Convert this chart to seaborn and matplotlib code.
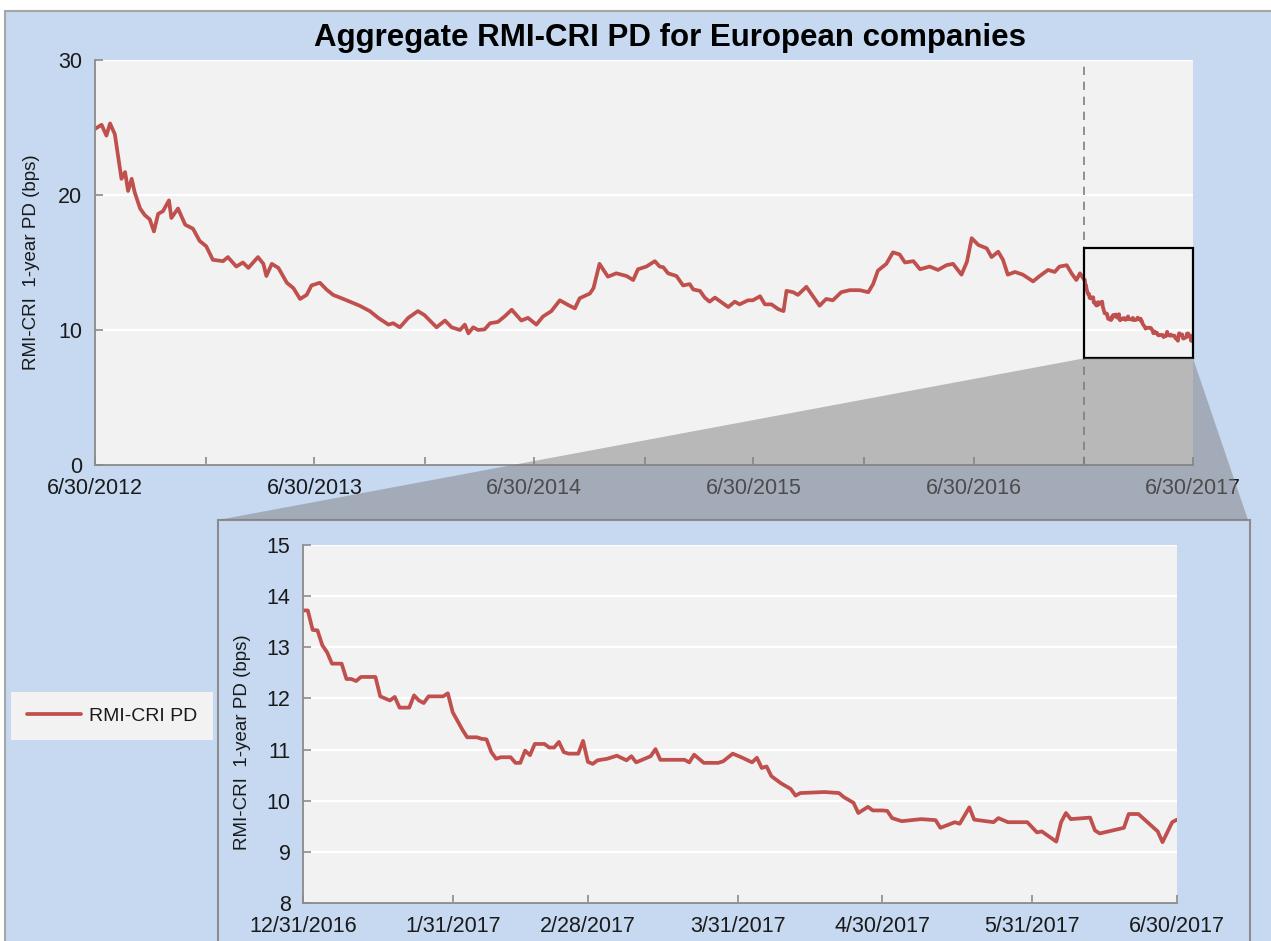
import matplotlib
matplotlib.use('Agg')
import pandas as pd
import matplotlib.pyplot as plt
import matplotlib.dates as mdates
from matplotlib.patches import Rectangle, Polygon
from matplotlib.ticker import FuncFormatter
import seaborn as sns

TITLE = 'Aggregate RMI-CRI PD for European companies'
YLABEL = 'RMI-CRI  1-year PD (bps)'
SERIES_NAME = 'RMI-CRI PD'

# history (up to the zoomed half-year)
HIST_DATES = [
    '2012-06-30', '2012-07-11', '2012-07-19', '2012-07-25', '2012-08-02', '2012-08-08', '2012-08-13',
    '2012-08-19', '2012-08-24', '2012-08-30', '2012-09-04', '2012-09-13', '2012-09-21', '2012-09-29',
    '2012-10-06', '2012-10-13', '2012-10-21', '2012-10-31', '2012-11-04', '2012-11-15', '2012-11-27',
    '2012-12-10', '2012-12-21', '2013-01-01', '2013-01-12', '2013-01-29', '2013-02-06', '2013-02-20',
    '2013-03-03', '2013-03-12', '2013-03-28', '2013-04-06', '2013-04-11', '2013-04-20', '2013-05-01',
    '2013-05-15', '2013-05-26', '2013-06-06', '2013-06-17', '2013-06-25', '2013-07-09', '2013-07-20',
    '2013-07-31', '2013-08-17', '2013-09-02', '2013-09-13', '2013-09-30', '2013-10-14',
    '2013-10-31', '2013-11-08', '2013-11-19', '2013-12-03', '2013-12-19', '2013-12-30', '2014-01-19',
    '2014-02-02', '2014-02-13', '2014-02-27', '2014-03-07', '2014-03-13', '2014-03-21', '2014-03-29',
    '2014-04-09', '2014-04-18', '2014-05-01', '2014-05-12', '2014-05-24', '2014-06-09', '2014-06-20',
    '2014-07-04', '2014-07-15', '2014-07-29', '2014-08-12', '2014-08-26', '2014-09-06', '2014-09-14',
    '2014-10-01', '2014-10-07', '2014-10-17', '2014-10-31', '2014-11-14', '2014-12-01', '2014-12-12',
    '2014-12-20', '2015-01-03', '2015-01-17', '2015-01-25',
    '2015-01-31', '2015-02-08', '2015-02-22', '2015-03-05', '2015-03-16', '2015-03-22', '2015-04-02',
    '2015-04-10', '2015-04-18', '2015-04-27', '2015-05-08', '2015-05-19', '2015-05-30', '2015-06-07',
    '2015-06-21', '2015-06-29', '2015-07-11', '2015-07-19', '2015-07-30', '2015-08-10', '2015-08-19',
    '2015-08-24', '2015-09-04', '2015-09-12', '2015-09-26', '2015-10-07', '2015-10-18', '2015-10-29',
    '2015-11-09', '2015-11-23', '2015-12-07', '2015-12-24', '2016-01-07', '2016-01-15', '2016-01-23',
    '2016-02-06', '2016-02-17', '2016-02-28', '2016-03-08', '2016-03-22', '2016-04-02',
    '2016-04-18', '2016-05-02', '2016-05-16', '2016-05-27', '2016-06-10', '2016-06-19', '2016-06-27',
    '2016-07-08', '2016-07-22', '2016-07-30', '2016-08-10', '2016-08-18', '2016-08-26', '2016-09-07',
    '2016-09-20', '2016-10-07', '2016-10-18', '2016-11-01', '2016-11-12', '2016-11-20', '2016-12-02',
    '2016-12-10', '2016-12-18', '2016-12-24',
]
HIST_VALUES = [
    24.9, 25.2, 24.4, 25.3, 24.5, 22.7, 21.2, 21.7, 20.3, 21.2, 20.2, 19.0, 18.5, 18.2, 17.3, 18.6,
    18.8, 19.6, 18.3, 19.0, 17.8, 17.5, 16.6, 16.2, 15.2, 15.1, 15.4, 14.7, 15.0, 14.6, 15.4, 14.9,
    14.0, 14.9, 14.6, 13.5, 13.1, 12.3, 12.6, 13.3, 13.5, 13.0, 12.6, 12.3, 12.0, 11.8, 11.4, 10.9,
    10.4, 10.5, 10.2, 10.9, 11.4, 11.1, 10.2, 10.7, 10.2, 10.0, 10.4, 9.75, 10.2, 10.0, 10.05, 10.5,
    10.6, 11.0, 11.5, 10.7, 10.9, 10.4, 11.0, 11.4, 12.2, 11.85, 11.6, 12.35, 12.7, 13.1, 14.9, 13.95,
    14.2, 14.0, 13.7, 14.5, 14.7, 15.1, 14.7,
    14.65, 14.2, 14.0, 13.3, 13.4, 13.0, 12.9, 12.4, 12.1, 12.4, 12.05, 11.7, 12.1, 11.9, 12.2, 12.2,
    12.5, 11.9, 11.9, 11.55, 11.4, 12.9, 12.8, 12.6, 13.2, 12.5, 11.8, 12.3, 12.2, 12.8, 12.95, 12.95,
    12.8, 13.4, 14.4, 14.9, 15.75, 15.6, 15.0, 15.1, 14.5,
    14.7, 14.45, 14.8, 14.9, 14.1, 15.05, 16.8, 16.3, 16.05, 15.4, 15.8, 15.2, 14.1, 14.3, 14.1, 13.6,
    14.0, 14.45, 14.3, 14.7, 14.8, 14.2, 13.7, 14.2,
]

# zoomed half-year
ZOOM_DATES = [
    '2016-12-31', '2017-01-01', '2017-01-02', '2017-01-03', '2017-01-04', '2017-01-05', '2017-01-06',
    '2017-01-08', '2017-01-09', '2017-01-10', '2017-01-11', '2017-01-12', '2017-01-15', '2017-01-16',
    '2017-01-18', '2017-01-19', '2017-01-20', '2017-01-22', '2017-01-23', '2017-01-24', '2017-01-25',
    '2017-01-26', '2017-01-29', '2017-01-30', '2017-01-31', '2017-02-02', '2017-02-03', '2017-02-05',
    '2017-02-06', '2017-02-07', '2017-02-08', '2017-02-09', '2017-02-10', '2017-02-12', '2017-02-13',
    '2017-02-14', '2017-02-15', '2017-02-16', '2017-02-17', '2017-02-19', '2017-02-20', '2017-02-21',
    '2017-02-22', '2017-02-23', '2017-02-24', '2017-02-26', '2017-02-27', '2017-02-28', '2017-03-01',
    '2017-03-02', '2017-03-04', '2017-03-06', '2017-03-08', '2017-03-09', '2017-03-10', '2017-03-13',
    '2017-03-14', '2017-03-15', '2017-03-20', '2017-03-21', '2017-03-22', '2017-03-24', '2017-03-27',
    '2017-03-28', '2017-03-30', '2017-04-01', '2017-04-03', '2017-04-04', '2017-04-05', '2017-04-06',
    '2017-04-07', '2017-04-09', '2017-04-11', '2017-04-12', '2017-04-13', '2017-04-18', '2017-04-21',
    '2017-04-22', '2017-04-24', '2017-04-25', '2017-04-27', '2017-04-28', '2017-04-30', '2017-05-01',
    '2017-05-02', '2017-05-04', '2017-05-08', '2017-05-11', '2017-05-12', '2017-05-15', '2017-05-16',
    '2017-05-18', '2017-05-19', '2017-05-23', '2017-05-24', '2017-05-26', '2017-05-30', '2017-06-01',
    '2017-06-02', '2017-06-05', '2017-06-06', '2017-06-07', '2017-06-08', '2017-06-12', '2017-06-13',
    '2017-06-14', '2017-06-19', '2017-06-20', '2017-06-22', '2017-06-26', '2017-06-27', '2017-06-29',
    '2017-06-30',
]
ZOOM_VALUES = [
    13.72, 13.72, 13.34, 13.33, 13.04, 12.9, 12.68, 12.68, 12.38, 12.38, 12.34, 12.42, 12.42, 12.04,
    11.96, 12.03, 11.82, 11.82, 12.06, 11.96, 11.91, 12.04, 12.04, 12.1, 11.73, 11.39, 11.24, 11.24,
    11.21, 11.2, 10.95, 10.82, 10.85, 10.85, 10.74, 10.74, 10.98, 10.89, 11.11, 11.11, 11.04, 11.04,
    11.15, 10.95, 10.92, 10.92, 11.17, 10.76, 10.72, 10.79, 10.82, 10.88, 10.79, 10.87, 10.75, 10.87,
    11.01, 10.8, 10.8, 10.75, 10.9, 10.74, 10.74, 10.77, 10.92, 10.84, 10.75, 10.84, 10.64, 10.67,
    10.48, 10.34, 10.23, 10.1, 10.15, 10.17, 10.15, 10.07, 9.96, 9.76, 9.88, 9.81, 9.81, 9.8,
    9.66, 9.6, 9.64, 9.62, 9.47, 9.58, 9.55, 9.87, 9.63, 9.58, 9.66, 9.58, 9.58, 9.38,
    9.4, 9.2, 9.58, 9.76, 9.64, 9.67, 9.42, 9.36, 9.47, 9.74, 9.74, 9.4, 9.19, 9.58,
    9.63,
]

TOP_TICKS = ['2012-06-30', '2013-06-30', '2014-06-30', '2015-06-30', '2016-06-30', '2017-06-30']
TOP_MINOR = ['2012-12-31', '2013-12-31', '2014-12-31', '2015-12-31', '2016-12-31']
TOP_YTICKS = [0, 10, 20, 30]
ZOOM_TICKS = ['2016-12-31', '2017-01-31', '2017-02-28', '2017-03-31', '2017-04-30', '2017-05-31', '2017-06-30']
ZOOM_YTICKS = [8, 9, 10, 11, 12, 13, 14, 15]
BOX_Y = (7.9, 16.1)

RED = '#C0504D'
BLUE_BG = '#C6D9F1'
PLOT_BG = '#F2F2F2'
SPINE = '#8A8A8A'
TEXT = '#1A1A1A'

sns.set_theme(style='white')
plt.rcParams['font.family'] = ['Liberation Sans', 'DejaVu Sans']

W, H = 1271, 941


def fig_rect(left, top, right, bottom):
    return [left / W, 1 - bottom / H, (right - left) / W, (bottom - top) / H]


def date_label(x, pos):
    d = mdates.num2date(x)
    return f'{d.month}/{d.day}/{d.year}'


def style_axes(ax):
    ax.set_facecolor(PLOT_BG)
    for side in ['top', 'right']:
        ax.spines[side].set_visible(False)
    for side in ['left', 'bottom']:
        ax.spines[side].set_color(SPINE)
        ax.spines[side].set_linewidth(1.3)
    ax.grid(False)
    ax.grid(axis='y', color='white', linewidth=1.6)
    ax.set_axisbelow(True)
    ax.tick_params(which='both', direction='in', color=SPINE, width=1.2, length=6,
                   labelsize=15.5, labelcolor=TEXT, left=True, bottom=True)
    ax.tick_params(axis='x', pad=9)
    ax.tick_params(axis='y', pad=9)
    ax.xaxis.set_major_formatter(FuncFormatter(date_label))
    ax.set_xlabel('')


hist = pd.DataFrame({'date': pd.to_datetime(HIST_DATES), 'pd': HIST_VALUES})
zoom = pd.DataFrame({'date': pd.to_datetime(ZOOM_DATES), 'pd': ZOOM_VALUES})
full = pd.concat([hist, zoom], ignore_index=True)

fig = plt.figure(figsize=(W / 100, H / 100), dpi=100)
fig.patch.set_facecolor('white')

fig.add_artist(Rectangle((5 / W, -0.02), 1.05, 1 - 11 / H + 0.02, transform=fig.transFigure,
                         facecolor=BLUE_BG, edgecolor='#A6A6A6', linewidth=1.5, zorder=-3))
fig.add_artist(Rectangle((218 / W, -0.02), (1250 - 218) / W, 1 - 520 / H + 0.02, transform=fig.transFigure,
                         facecolor=BLUE_BG, edgecolor='#8C8C8C', linewidth=1.5, zorder=-2))

# main panel
ax_top = fig.add_axes(fig_rect(95, 60, 1193, 465))
ax_top.set_zorder(0)
sns.lineplot(data=full, x='date', y='pd', ax=ax_top, color=RED, linewidth=2.7)
style_axes(ax_top)
ax_top.set_xlim(pd.Timestamp(TOP_TICKS[0]), pd.Timestamp(TOP_TICKS[-1]))
ax_top.set_ylim(TOP_YTICKS[0], TOP_YTICKS[-1])
ax_top.set_yticks(TOP_YTICKS)
ax_top.set_xticks(pd.to_datetime(TOP_TICKS))
ax_top.set_xticks(pd.to_datetime(TOP_MINOR), minor=True)
ax_top.set_ylabel(YLABEL, fontsize=13.5, color=TEXT)
ax_top.yaxis.set_label_coords(-0.05, 0.5)

zoom_start = pd.Timestamp(ZOOM_DATES[0])
zoom_end = pd.Timestamp(ZOOM_DATES[-1])
ax_top.axvline(zoom_start, color='#7F7F7F', linestyle=(0, (5, 4)), linewidth=1.2, zorder=1)
x0, x1 = mdates.date2num(zoom_start), mdates.date2num(zoom_end)
ax_top.add_patch(Rectangle((x0, BOX_Y[0]), x1 - x0, BOX_Y[1] - BOX_Y[0], fill=False,
                           edgecolor='black', linewidth=1.6, zorder=4, clip_on=False))

fig.text(670 / W, 1 - 38 / H, TITLE, fontsize=22.5, fontweight='bold', color='black',
         ha='center', va='center')

# zoomed panel
ax_zoom = fig.add_axes(fig_rect(303, 545, 1177, 903))
ax_zoom.set_zorder(2)
sns.lineplot(data=zoom, x='date', y='pd', ax=ax_zoom, color=RED, linewidth=2.7)
style_axes(ax_zoom)
ax_zoom.set_xlim(zoom_start, zoom_end)
ax_zoom.set_ylim(ZOOM_YTICKS[0], ZOOM_YTICKS[-1])
ax_zoom.set_yticks(ZOOM_YTICKS)
ax_zoom.set_xticks(pd.to_datetime(ZOOM_TICKS))
ax_zoom.set_ylabel(YLABEL, fontsize=13.5, color=TEXT)
ax_zoom.yaxis.set_label_coords(-0.06, 0.45)

# shaded connector from the box down to the zoom panel
to_fig = ax_top.transData + fig.transFigure.inverted()
bl = to_fig.transform((x0, BOX_Y[0]))
br = to_fig.transform((x1, BOX_Y[0]))
connector = Polygon([bl, br, (1248 / W, 1 - 520 / H), (218 / W, 1 - 520 / H)], closed=True,
                    transform=fig.transFigure, facecolor='#7F7F7F', edgecolor='none', alpha=0.5, zorder=1)
fig.add_artist(connector)

handle = ax_top.get_lines()[0]
leg = fig.legend([handle], [SERIES_NAME], loc='center', bbox_to_anchor=(112 / W, 1 - 716 / H),
                 frameon=True, fancybox=False, facecolor=PLOT_BG, edgecolor='none', framealpha=1,
                 fontsize=14, handlelength=2.8, borderpad=0.8, handletextpad=0.4)
for t in leg.get_texts():
    t.set_color(TEXT)

fig.savefig('out.png', dpi=100)
